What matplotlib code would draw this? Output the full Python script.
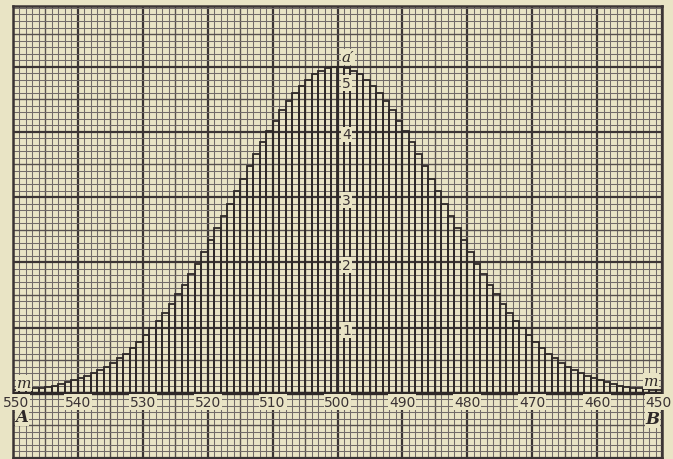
import matplotlib
matplotlib.use("Agg")
import matplotlib.pyplot as plt
import numpy as np

# bar heights, one per unit interval [k, k+1], k = 450 .. 549
rising = [0.04, 0.045, 0.055, 0.066, 0.08, 0.095, 0.11, 0.135, 0.16, 0.19,
          0.22, 0.26, 0.30, 0.35, 0.40, 0.46, 0.53, 0.60, 0.69, 0.78,
          0.88, 0.99, 1.10, 1.23, 1.36, 1.51, 1.66, 1.82, 1.98, 2.16,
          2.34, 2.52, 2.71, 2.90, 3.09, 3.28, 3.47, 3.66, 3.84, 4.01,
          4.17, 4.33, 4.47, 4.59, 4.71, 4.80, 4.88, 4.94, 4.98, 5.00]
falling = [5.00, 4.98, 4.94, 4.88, 4.80, 4.71, 4.59, 4.47, 4.33, 4.17,
           4.01, 3.84, 3.66, 3.47, 3.28, 3.09, 2.90, 2.71, 2.52, 2.34,
           2.16, 1.98, 1.82, 1.66, 1.51, 1.36, 1.23, 1.10, 0.99, 0.88,
           0.78, 0.69, 0.60, 0.53, 0.46, 0.40, 0.35, 0.30, 0.26, 0.22,
           0.19, 0.16, 0.135, 0.11, 0.095, 0.08, 0.066, 0.055, 0.045, 0.04]
heights = rising + falling
bins = list(range(450, 550))

xtick_vals = [550, 540, 530, 520, 510, 500, 490, 480, 470, 460, 450]
ytick_vals = [1, 2, 3, 4, 5]

paper = "#e9e4c5"
ink = "#3b3435"

fig = plt.figure(figsize=(6.73, 4.60), dpi=100)
fig.patch.set_facecolor(paper)
ax = fig.add_axes([13/673, 1/460, (662-13)/673, (459-7)/460])
ax.set_facecolor(paper)
ax.set_xlim(550, 450)
ax.set_ylim(-1, 5.93)

# graph paper
xs = np.arange(450, 551, 1)
ys = np.round(np.arange(-1, 6.0, 0.1), 2)
for x in xs:
    if x % 10 == 0:
        ax.axvline(x, color=ink, lw=1.6, zorder=1)
    elif x % 5 == 0:
        ax.axvline(x, color="#57504f", lw=1.0, zorder=1)
    else:
        ax.axvline(x, color="#726b69", lw=0.75, zorder=1)
for y in ys:
    k = int(round(y * 10))
    if k % 10 == 0:
        ax.axhline(y, color=ink, lw=1.6, zorder=1)
    elif k % 5 == 0:
        ax.axhline(y, color="#57504f", lw=1.0, zorder=1)
    else:
        ax.axhline(y, color="#726b69", lw=0.75, zorder=1)

# histogram
ax.bar(bins, heights, width=1, align="edge", fill=False,
       edgecolor="#2e2828", lw=1.3, zorder=3)
ax.plot([550, 450], [0, 0], color="#2e2828", lw=2.4, zorder=4)

box = dict(facecolor=paper, edgecolor="none", pad=0.6)
for v in xtick_vals:
    xv = v - 0.4 if v == 550 else (v + 0.5 if v == 450 else v)
    ax.text(xv, -0.14, str(v), ha="center", va="center", fontsize=10,
            color="#3a3234", bbox=box, zorder=5, clip_on=False)
for v in ytick_vals:
    yy = 4.75 if v == 5 else v - 0.04
    ax.text(499.3, yy, str(v), ha="left", va="center", fontsize=10,
            color="#3a3234", bbox=box, zorder=5)

serif = dict(family="DejaVu Serif", style="italic", color="#2e2828", zorder=5)
ax.text(499.4, 5.15, "a\u2032", ha="left", va="center", fontsize=11, bbox=box, **serif)
ax.text(549.4, 0.15, "m", ha="left", va="center", fontsize=11, bbox=box, **serif)
ax.text(450.6, 0.18, "m", ha="right", va="center", fontsize=11, bbox=box, **serif)
ax.text(549.6, -0.36, "A", ha="left", va="center", fontsize=12, weight="bold", bbox=box, **serif)
ax.text(450.4, -0.39, "B", ha="right", va="center", fontsize=12, weight="bold", bbox=box, **serif)

ax.set_xticks([])
ax.set_yticks([])
for s in ax.spines.values():
    s.set_color(ink)
    s.set_linewidth(1.8)

fig.savefig("out.png", dpi=100, facecolor=paper)
